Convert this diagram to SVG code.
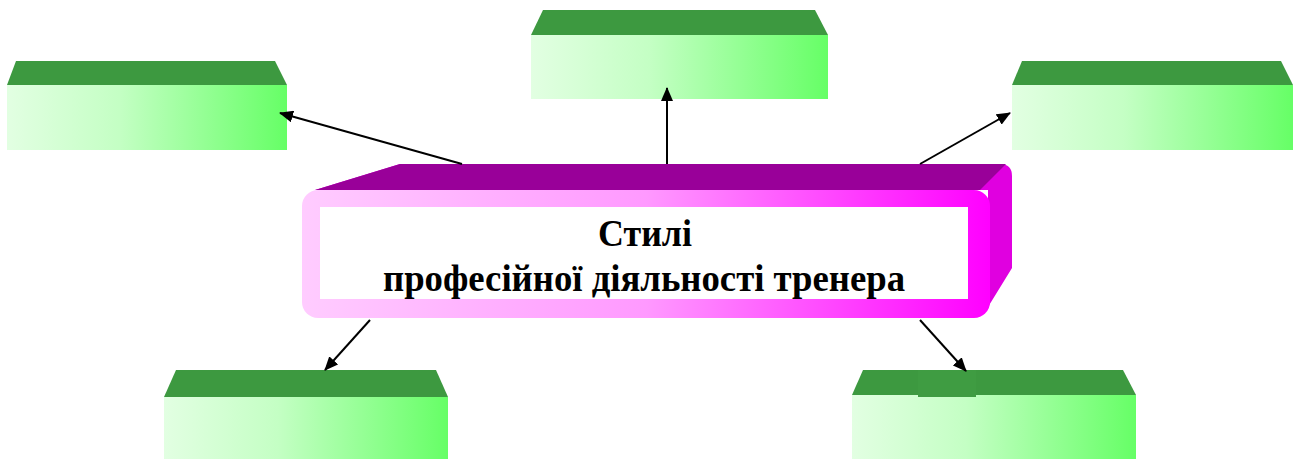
<svg xmlns="http://www.w3.org/2000/svg" width="1294" height="459" viewBox="0 0 1294 459">
<defs>
<linearGradient id="gFront" x1="0" y1="0" x2="1" y2="0">
<stop offset="0" stop-color="#e2ffe2"/>
<stop offset="0.4" stop-color="#c4ffc4"/>
<stop offset="1" stop-color="#66ff66"/>
</linearGradient>
<linearGradient id="pFront" x1="0" y1="0" x2="1" y2="0">
<stop offset="0" stop-color="#ffccff"/>
<stop offset="0.5" stop-color="#ff99ff"/>
<stop offset="1" stop-color="#ff00ff"/>
</linearGradient>
<marker id="ah" markerWidth="14" markerHeight="12" refX="13" refY="6" orient="auto" markerUnits="userSpaceOnUse" viewBox="0 0 14 12">
<path d="M0,0 L14,6 L0,12 Z" fill="#000"/>
</marker>
<style>
.top{fill:#3d9940}
.front{fill:url(#gFront)}
.conn{stroke:#000;stroke-width:2;fill:none}
.lbl{font-family:"Liberation Serif","Times New Roman",serif;font-weight:bold;font-size:38px;fill:#000;text-anchor:middle}
</style>
</defs>
<g id="box-top-left">
<polygon class="top" points="16,61 275,61 287,85 7,85"/>
<rect class="front" x="7" y="85" width="280" height="65"/>
</g>
<g id="box-top-center">
<polygon class="top" points="543,10 815,10 828,35 531,35"/>
<rect class="front" x="531" y="35" width="297" height="64"/>
</g>
<g id="box-top-right">
<polygon class="top" points="1022,61 1281,61 1293,85 1012,85"/>
<rect class="front" x="1012" y="85" width="281" height="65"/>
</g>
<g id="box-bottom-left">
<polygon class="top" points="176,370 436,370 448,397 164,397"/>
<rect class="front" x="164" y="397" width="284" height="62"/>
</g>
<g id="box-bottom-right">
<polygon class="top" points="863,370 1123,370 1136,395 852,395"/>
<rect class="front" x="852" y="395" width="284" height="64"/>
<rect x="918" y="370" width="58" height="27" fill="#3f9c42"/>
</g>
<g id="center">
<path d="M315,190 L400,164 L1000,164 Q1012,164 1012,176 L1012,268 L988,307 L988,190 Z" fill="#e000e0"/>
<polygon points="315,190 400,164 1006,164 980,190" fill="#990099"/>
<rect x="302" y="190" width="688" height="128" rx="16" fill="url(#pFront)"/>
<rect x="320" y="207" width="648" height="92" fill="#fff"/>
<text class="lbl" x="645" y="246" textLength="94" lengthAdjust="spacingAndGlyphs">Стилі</text>
<text class="lbl" x="644" y="291" textLength="522" lengthAdjust="spacingAndGlyphs">професійної діяльності тренера</text>
</g>
<g id="connectors">
<line class="conn" x1="462" y1="164" x2="280" y2="113" marker-end="url(#ah)"/>
<line class="conn" x1="667" y1="164" x2="667" y2="88" marker-end="url(#ah)"/>
<line class="conn" x1="920" y1="164" x2="1010" y2="113" marker-end="url(#ah)"/>
<line class="conn" x1="370" y1="320" x2="325" y2="370" marker-end="url(#ah)"/>
<line class="conn" x1="920" y1="320" x2="966" y2="371" marker-end="url(#ah)"/>
</g>
</svg>
